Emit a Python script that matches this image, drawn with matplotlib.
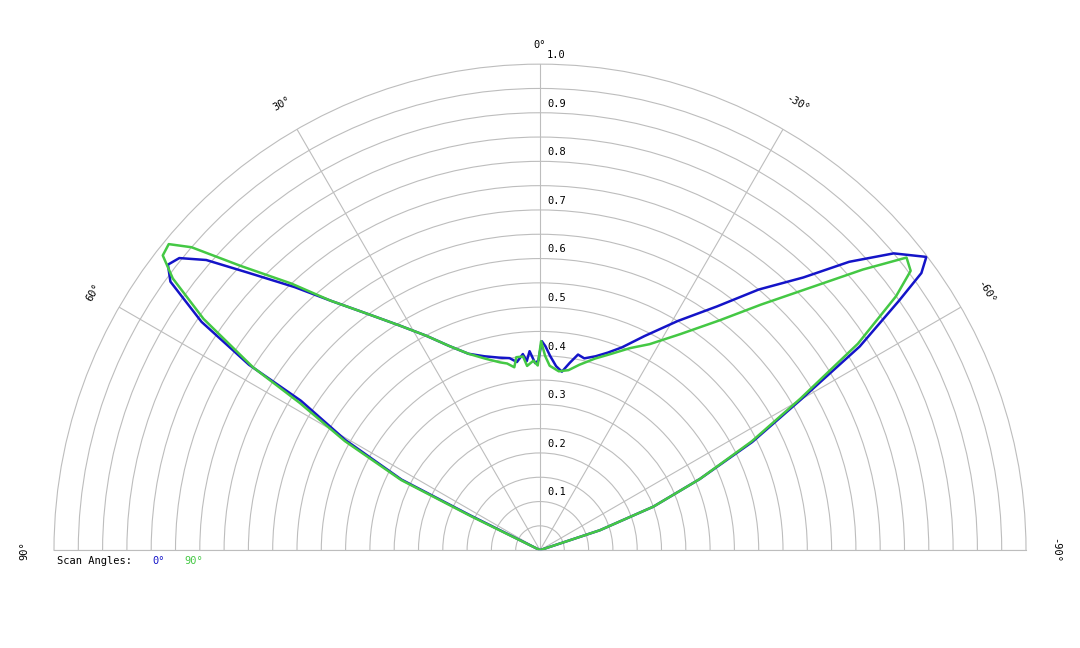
import numpy as np
import matplotlib

matplotlib.use("Agg")
import matplotlib.pyplot as plt  # noqa: E402

# scan 0 deg (blue) and scan 90 deg (green): (angle deg, normalised intensity)
blue_deg = [64, 63.5, 63, 60.5, 58, 57.5, 56, 54, 52.5, 51, 49, 46.5, 43, 40, 36, 32, 28, 24,
            20, 16, 12, 9, 7, 5, 4, 3, 1.5, 0.5, -0.5, -1.5, -3, -5, -7, -9, -11, -13, -16,
            -19, -22, -26, -31, -36, -40, -44, -47, -50, -52.8, -54, -55.2, -57.5, -60, -63,
            -66, -69, -71.6, -73]
blue_r = [0.0, 0.16, 0.32, 0.46, 0.58, 0.71, 0.84, 0.94, 0.965, 0.955, 0.91, 0.83, 0.74, 0.67,
          0.60, 0.545, 0.50, 0.46, 0.43, 0.415, 0.405, 0.40, 0.39, 0.405, 0.39, 0.41, 0.385,
          0.39, 0.43, 0.42, 0.40, 0.38, 0.37, 0.39, 0.41, 0.405, 0.415, 0.43, 0.45, 0.49, 0.55,
          0.62, 0.70, 0.78, 0.87, 0.95, 0.998, 0.97, 0.90, 0.78, 0.62, 0.49, 0.36, 0.25, 0.13, 0.0]
green_deg = [64.5, 63.8, 63.2, 60.8, 58.5, 57.5, 55.5, 53.5, 52, 50.5, 49, 46.5, 43, 40, 36, 32,
             28, 24, 20, 16, 12, 10, 8, 7, 5, 4, 2, 0.7, -0.3, -1.5, -3, -6, -9, -12, -16, -20,
             -24, -28, -33, -38, -42, -46, -49, -51.4, -53, -54.5, -57, -59.8, -62.8, -66, -69,
             -71.6, -73]
green_r = [0.0, 0.16, 0.32, 0.46, 0.58, 0.70, 0.84, 0.94, 0.985, 0.99, 0.95, 0.85, 0.75, 0.67,
           0.60, 0.545, 0.50, 0.46, 0.43, 0.41, 0.395, 0.39, 0.38, 0.40, 0.40, 0.38, 0.39, 0.38,
           0.43, 0.40, 0.38, 0.37, 0.375, 0.39, 0.41, 0.43, 0.455, 0.48, 0.53, 0.60, 0.68, 0.78,
           0.88, 0.965, 0.955, 0.90, 0.78, 0.62, 0.49, 0.36, 0.25, 0.13, 0.0]
angle_ticks = [90, 60, 30, 0, -30, -60, -90]
radius_ticks = [0.1, 0.2, 0.3, 0.4, 0.5, 0.6, 0.7, 0.8, 0.9, 1.0]

BLUE = "#1414c8"
GREEN = "#44c844"
GRID = "#bdbdbd"
MONO = "DejaVu Sans Mono"

fig = plt.figure(figsize=(10.8, 6.48), dpi=100)
# half-disc is fitted inside the box, so the box is oversized on purpose
ax = fig.add_axes([-0.4, -0.224, 1.8, 1.5], projection="polar")
ax.set_theta_zero_location("N")
ax.set_thetamin(-90)
ax.set_thetamax(90)
ax.set_ylim(0, 1.0)

ax.set_xticks(np.deg2rad(angle_ticks))
ax.set_xticklabels([])
ax.set_yticks(np.arange(0.05, 1.0, 0.05))
ax.set_yticklabels([])
ax.grid(True, color=GRID, lw=0.8)
ax.tick_params(length=0)
for sp in ax.spines.values():
    sp.set_color(GRID)
    sp.set_linewidth(0.8)

ax.plot(np.deg2rad(blue_deg), blue_r, color=BLUE, lw=1.8, zorder=3)
ax.plot(np.deg2rad(green_deg), green_r, color=GREEN, lw=1.8, zorder=4)

for r in radius_ticks:
    ax.annotate(f"{r:.1f}", xy=(0, r), xytext=(5, 3), textcoords="offset points",
                ha="left", va="bottom", fontsize=7.5, family=MONO)
for a in angle_ticks:
    rr = 1.04 if a == 0 else 1.06
    ax.text(np.deg2rad(a), rr, f"{a}°", ha="center", va="center", rotation=a,
            rotation_mode="anchor", fontsize=7.5, family=MONO)

fig.text(0.053, 0.135, "Scan Angles:", fontsize=7.5, family=MONO, va="center")
fig.text(0.141, 0.135, "0°", fontsize=7.5, family=MONO, va="center", color=BLUE)
fig.text(0.171, 0.135, "90°", fontsize=7.5, family=MONO, va="center", color=GREEN)

fig.savefig("out.png", dpi=100)
